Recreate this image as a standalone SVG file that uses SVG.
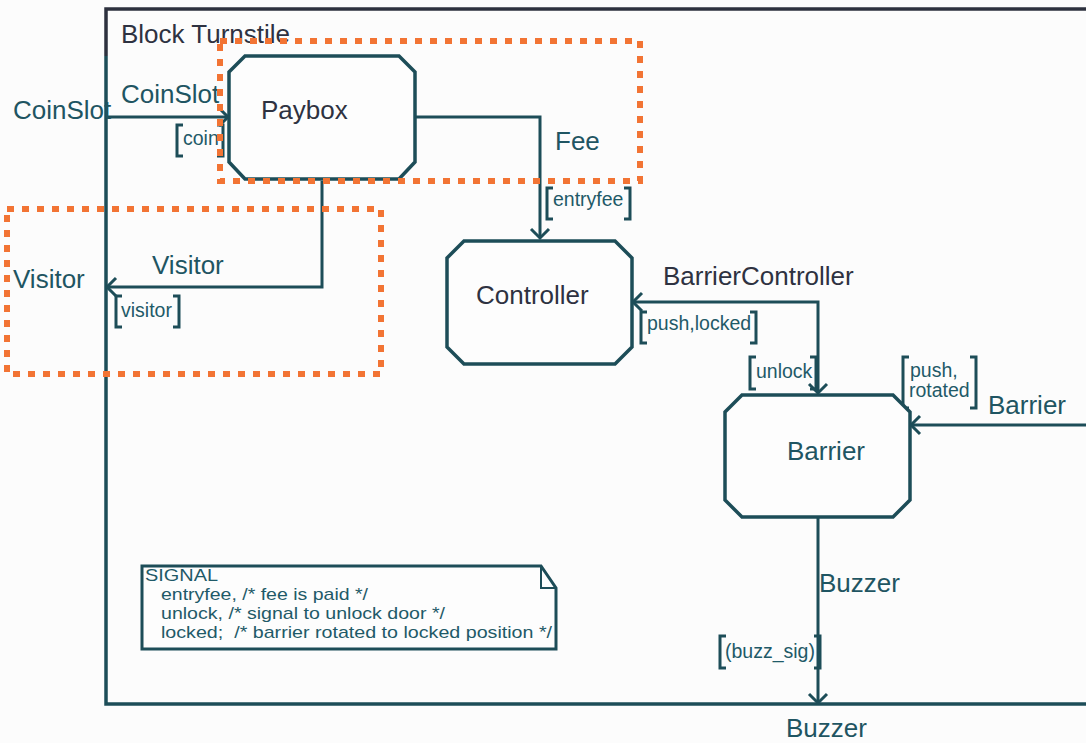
<svg xmlns="http://www.w3.org/2000/svg" width="1086" height="743" viewBox="0 0 1086 743">
  <style>
    .lbl { font-family: "Liberation Sans", Arial, sans-serif; font-size: 26px; fill: #1f5562; }
    .dark { fill: #2e3241; }
    .sig { font-family: "Liberation Sans", Arial, sans-serif; font-size: 19.5px; fill: #1f5a68; }
    .note { font-family: "Liberation Sans", Arial, sans-serif; font-size: 17px; fill: #1f5a68; }
    .line { fill: none; stroke: #1d4d58; stroke-width: 3; stroke-linejoin: miter; }
    .node { fill: #fdfdfd; stroke: #1d4d58; stroke-width: 3.5; }
    .brk { fill: none; stroke: #1d4d58; stroke-width: 3; }
    .group { fill: none; stroke: #f27434; stroke-width: 6; stroke-dasharray: 7 8; }
  </style>
  <defs>
    <marker id="open" viewBox="-12 -12 14 24" markerWidth="14" markerHeight="24" refX="0" refY="0" orient="auto-start-reverse" markerUnits="userSpaceOnUse" overflow="visible">
      <path d="M-9,-9 L0,0 L-9,9" fill="none" stroke="#1d4d58" stroke-width="3"/>
    </marker>
  </defs>

  <rect width="1086" height="743" fill="#fcfcfc"/>

  <!-- block frame -->
  <g id="frame">
    <path d="M106,56 V9 H1086" fill="none" stroke="#2d313e" stroke-width="3.5"/>
    <path d="M106,56 V704 H1086" fill="none" stroke="#1d4d58" stroke-width="3.5"/>
    <text class="lbl dark" x="121" y="43">Block Turnstile</text>
  </g>

  <!-- signal routes -->
  <g id="connectors">
    <path class="line" d="M106,117 H228" marker-end="url(#open)"/>
    <path class="line" d="M416,117 H540 V238" marker-end="url(#open)"/>
    <path class="line" d="M322,181 V287 H107" marker-end="url(#open)"/>
    <path class="line" d="M818,393 V302 H633" marker-start="url(#open)" marker-end="url(#open)"/>
    <path class="line" d="M1086,425 H911" marker-end="url(#open)"/>
    <path class="line" d="M818,518 V703" marker-end="url(#open)"/>

    <!-- route names -->
    <text class="lbl" x="13" y="119">CoinSlot</text>
    <text class="lbl" x="121" y="103">CoinSlot</text>
    <text class="lbl" x="555" y="150">Fee</text>
    <text class="lbl" x="152" y="274">Visitor</text>
    <text class="lbl" x="13" y="288">Visitor</text>
    <text class="lbl dark" x="663" y="285">BarrierController</text>
    <text class="lbl" x="988" y="414">Barrier</text>
    <text class="lbl" x="819" y="592">Buzzer</text>
    <text class="lbl" x="786" y="737">Buzzer</text>

    <!-- signal lists -->
    <path class="brk" d="M183,125 H177 V156 H183 M217,125 H223 V156 H217"/>
    <text class="sig" x="183" y="145">coin</text>
    <path class="brk" d="M553,188 H547 V219 H553 M624,188 H630 V219 H624"/>
    <text class="sig" x="553" y="206">entryfee</text>
    <path class="brk" d="M122,296 H116 V327 H122 M173,296 H179 V327 H173"/>
    <text class="sig" x="121" y="317">visitor</text>
    <path class="brk" d="M647,312 H641 V343 H647 M750,312 H756 V343 H750"/>
    <text class="sig" x="647" y="330">push,locked</text>
    <path class="brk" d="M756,357 H750 V389 H756 M810,357 H816 V389 H810"/>
    <text class="sig" x="756" y="378">unlock</text>
    <path class="brk" d="M909,357 H903 V408 H909 M970,357 H976 V408 H970"/>
    <text class="sig" x="910" y="377">push,</text>
    <text class="sig" x="909" y="397">rotated</text>
    <path class="brk" d="M726,636 H720 V668 H726 M814,636 H820 V668 H814"/>
    <text class="sig" x="725" y="658">(buzz_sig)</text>
  </g>

  <g id="paybox">
    <path class="node" d="M245,56 H399 L415,72 V162 L399,179 H245 L229,162 V72 Z"/>
    <text class="lbl dark" x="261" y="119">Paybox</text>
  </g>

  <g id="controller">
    <path class="node" d="M464,241 H615 L632,258 V347 L615,364 H464 L447,347 V258 Z"/>
    <text class="lbl dark" x="476" y="304">Controller</text>
  </g>

  <g id="barrier">
    <path class="node" d="M742,395 H893 L910,412 V500 L893,517 H742 L725,500 V412 Z"/>
    <text class="lbl" x="787" y="460">Barrier</text>
  </g>

  <g id="signal-note">
    <path d="M142,566 H541 L556,588 V649 H142 Z" fill="#fdfdfd" stroke="#1d4d58" stroke-width="3"/>
    <path d="M541,566 V588 H556" fill="none" stroke="#1d4d58" stroke-width="2"/>
    <text class="note" x="145" y="581" textLength="73" lengthAdjust="spacingAndGlyphs">SIGNAL</text>
    <text class="note" x="161" y="600" textLength="207" lengthAdjust="spacingAndGlyphs">entryfee, /* fee is paid */</text>
    <text class="note" x="161" y="619" textLength="284" lengthAdjust="spacingAndGlyphs">unlock, /* signal to unlock door */</text>
    <text class="note" x="161" y="638" textLength="391" lengthAdjust="spacingAndGlyphs" xml:space="preserve">locked;  /* barrier rotated to locked position */</text>
  </g>

  <!-- highlighted regions -->
  <g id="highlights">
    <rect class="group" x="220" y="41" width="420" height="140"/>
    <rect class="group" x="7" y="209" width="374" height="165"/>
  </g>
</svg>
